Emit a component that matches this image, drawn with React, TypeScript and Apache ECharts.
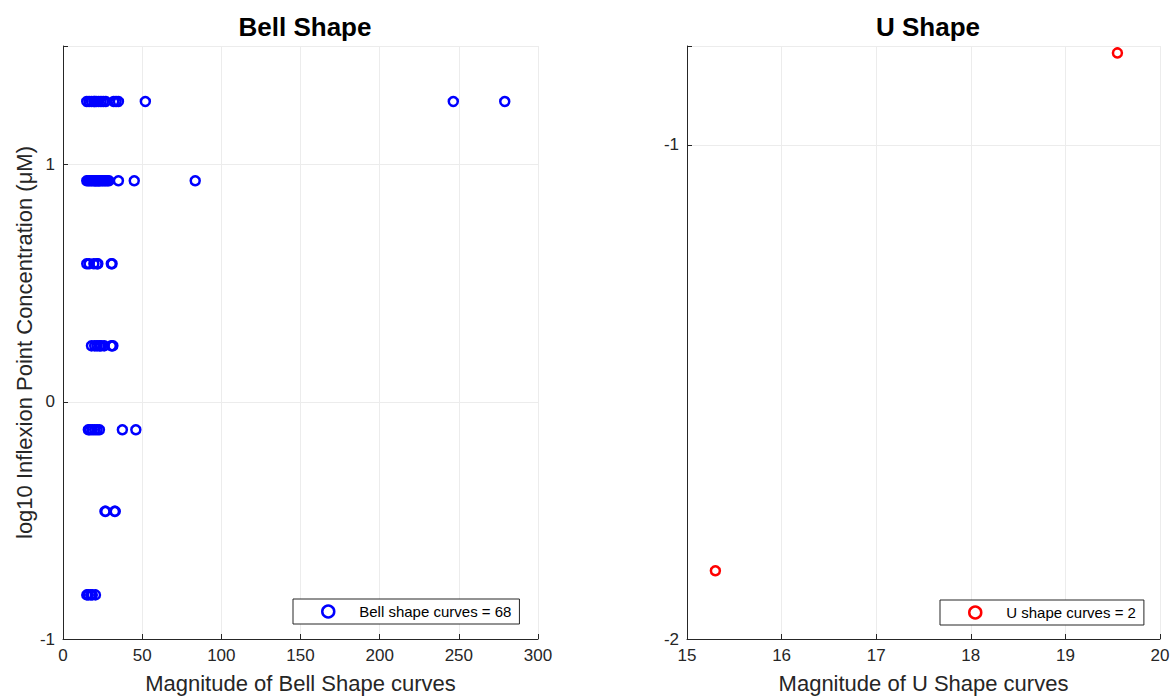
import React, { useEffect, useRef } from "react";
import * as echarts from "echarts";

// log10 concentration levels (rows) and bell-shape magnitudes per row
const bellLevels = [1.266, 0.932, 0.582, 0.236, -0.118, -0.462, -0.814];
const bellRow1 = [15, 16.5, 18, 19.5, 20, 21, 22.5, 24, 25.5, 27, 32, 33.5, 35, 52, 246.5, 279];
const bellRow2 = [15, 16, 17, 18, 19, 20, 20.5, 21, 22, 22.5, 23, 24, 25, 26, 27, 28, 29, 35, 45, 83.5];
const bellRow3 = [15, 16.5, 19.5, 21.5, 22, 30.5, 31];
const bellRow4 = [18, 20, 21.5, 23, 24, 26, 30.5, 31.5];
const bellRow5 = [16, 17, 18.5, 20, 21.5, 23, 37.5, 46];
const bellRow6 = [26.5, 27, 32.5, 33];
const bellRow7 = [15, 16, 17.5, 18.5, 20.5];
const bellRows = [bellRow1, bellRow2, bellRow3, bellRow4, bellRow5, bellRow6, bellRow7];

const uMagnitude = [19.55, 15.3];
const uLog10Conc = [-0.814, -1.862];

const bellCount = 68;
const uCount = 2;

const FONT = "'Liberation Sans', Arial, Helvetica, sans-serif";
const AXIS = "#262626";
const GRID = "#ececec";

export default function App() {
  const ref = useRef<HTMLDivElement>(null);
  useEffect(() => {
    const chart = echarts.init(ref.current!, null, { renderer: "svg" });
    const bellData: number[][] = [];
    bellRows.forEach((row, i) => row.forEach((x) => bellData.push([x, bellLevels[i]])));
    const uData = uMagnitude.map((x, i) => [x, uLog10Conc[i]]);

    const xAxisBase = (gridIndex: number, min: number, max: number, interval: number, name: string) => ({
      type: "value",
      gridIndex,
      min,
      max,
      interval,
      name,
      nameLocation: "middle",
      nameGap: 33,
      nameTextStyle: { fontFamily: FONT, fontSize: 22, color: AXIS },
      axisLine: { show: true, onZero: false, lineStyle: { color: AXIS, width: 1 } },
      axisTick: { show: true, inside: true, length: 5, lineStyle: { color: AXIS } },
      axisLabel: { fontFamily: FONT, fontSize: 17, color: AXIS, margin: 8 },
      splitLine: { show: true, lineStyle: { color: GRID, width: 1 } },
    });
    const yAxisBase = (gridIndex: number, min: number, max: number, name: string) => ({
      type: "value",
      gridIndex,
      min,
      max,
      interval: 1,
      name,
      nameLocation: "middle",
      nameGap: 27,
      nameTextStyle: { fontFamily: FONT, fontSize: 22, color: AXIS },
      axisLine: { show: true, onZero: false, lineStyle: { color: AXIS, width: 1 } },
      axisTick: { show: true, inside: true, length: 5, lineStyle: { color: AXIS } },
      axisLabel: {
        fontFamily: FONT,
        fontSize: 17,
        color: AXIS,
        margin: 8,
        formatter: (v: number) => (Math.abs(v - Math.round(v)) < 1e-9 ? String(Math.round(v)) : ""),
      },
      splitLine: { show: true, lineStyle: { color: GRID, width: 1 } },
    });

    const legendCommon = {
      orient: "horizontal",
      backgroundColor: "#ffffff",
      borderColor: "#262626",
      borderWidth: 1,
      borderRadius: 0,
      padding: [5, 8, 5, 28],
      itemWidth: 12,
      itemHeight: 12,
      textStyle: { fontFamily: FONT, fontSize: 15, color: "#000", padding: [0, 0, 0, 20] },
    };

    chart.setOption({
      animation: false,
      title: [
        {
          text: "Bell Shape",
          left: 300,
          top: 9,
          textAlign: "center",
          textStyle: { fontFamily: FONT, fontSize: 26, fontWeight: "bold", color: "#000" },
        },
        {
          text: "U Shape",
          left: 923,
          top: 9,
          textAlign: "center",
          textStyle: { fontFamily: FONT, fontSize: 26, fontWeight: "bold", color: "#000" },
        },
      ],
      grid: [
        { left: 63, right: 636, top: 46, bottom: 61 },
        { left: 687, right: 14, top: 46, bottom: 61 },
      ],
      xAxis: [
        xAxisBase(0, 0, 300, 50, "Magnitude of Bell Shape curves"),
        xAxisBase(1, 15, 20, 1, "Magnitude of U Shape curves"),
      ],
      yAxis: [
        yAxisBase(0, -1, 1.5, "log10 Inflexion Point Concentration (μM)"),
        yAxisBase(1, -2, -0.8, ""),
      ],
      legend: [
        {
          ...legendCommon,
          left: 293,
          top: 599,
          data: [
            {
              name: `Bell shape curves = ${bellCount}`,
              icon: "circle",
              itemStyle: { color: "#ffffff", borderColor: "#0000ff", borderWidth: 2.5 },
            },
          ],
        },
        {
          ...legendCommon,
          left: 940,
          top: 600,
          data: [
            {
              name: `U shape curves = ${uCount}`,
              icon: "circle",
              itemStyle: { color: "#ffffff", borderColor: "#ff0000", borderWidth: 2.5 },
            },
          ],
        },
      ],
      series: [
        {
          name: `Bell shape curves = ${bellCount}`,
          type: "scatter",
          xAxisIndex: 0,
          yAxisIndex: 0,
          symbol: "circle",
          symbolSize: 9,
          itemStyle: { color: "rgba(255,255,255,0)", borderColor: "#0000ff", borderWidth: 2.5, opacity: 1 },
          data: bellData,
        },
        {
          name: `U shape curves = ${uCount}`,
          type: "scatter",
          xAxisIndex: 1,
          yAxisIndex: 1,
          symbol: "circle",
          symbolSize: 9,
          itemStyle: { color: "rgba(255,255,255,0)", borderColor: "#ff0000", borderWidth: 2.5, opacity: 1 },
          data: uData,
        },
      ],
    });
    return () => chart.dispose();
  }, []);
  return (
    <div
      ref={ref}
      style={{ position: "fixed", left: 0, top: 0, width: 1174, height: 700, background: "#fff" }}
    />
  );
}
